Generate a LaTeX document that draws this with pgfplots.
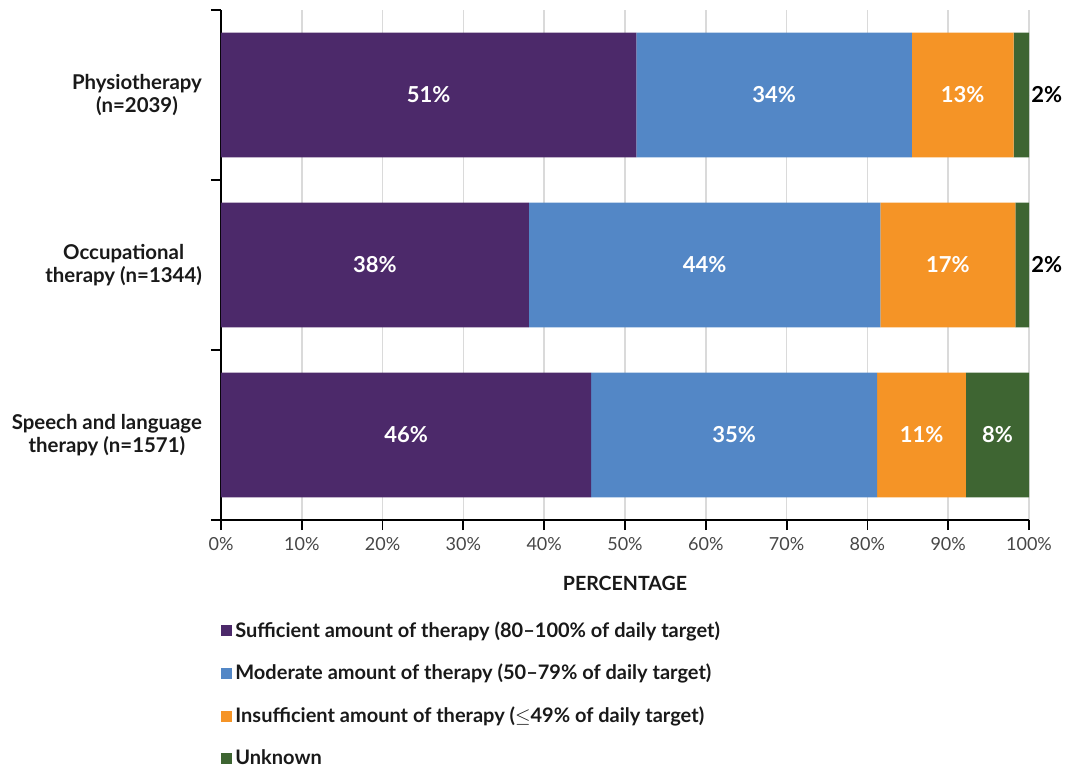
\documentclass[border=0pt]{standalone}
\usepackage{pgfplots}
\pgfplotsset{compat=1.18}
\usepackage{fontspec}
\setmainfont{Lato}

\definecolor{cPurple}{RGB}{76,41,106}
\definecolor{cBlue}{RGB}{83,135,198}
\definecolor{cOrange}{RGB}{245,148,38}
\definecolor{cGreen}{RGB}{62,101,50}
\definecolor{cGrid}{RGB}{218,218,218}
\definecolor{cTick}{RGB}{70,70,70}
\definecolor{cText}{RGB}{25,25,25}

\pgfplotsset{
  base/.style={scale only axis, width=404pt, height=255pt,
    xmin=0, xmax=100, ymin=-0.5, ymax=2.5, y dir=reverse},
  sqlegend/.style={legend image code/.code={\fill[##1] (0pt,-2.75pt) rectangle (5.5pt,2.75pt);}},
}

\begin{document}
\begin{tikzpicture}
\useasboundingbox (-110.5pt,-123.5pt) rectangle (425pt,260pt);
\begin{axis}[base,
  xbar stacked, bar width=0.735,
  axis x line*=bottom, axis y line*=left,
  axis line style={-, black, line width=0.9pt},
  tick align=outside,
  major tick length=0pt, minor tick length=5pt,
  xtick={0,10,...,100}, minor xtick={0,10,...,100},
  ytick={0,1,2}, minor ytick={-0.5,0.5,1.5,2.5},
  every minor tick/.append style={black, line width=0.9pt},
  xmajorgrids, major grid style={cGrid, line width=0.8pt},
  xticklabel={\pgfmathprintnumber{\tick}\%},
  /pgf/number format/assume math mode=true,
  xticklabel style={font=\fontsize{9}{11}\selectfont, text=cTick, yshift=-5pt},
  yticklabels={{Physiotherapy\\(n=2039)},{Occupational\\therapy (n=1344)},{Speech and language\\therapy (n=1571)}},
  yticklabel style={align=center, text=cText, font=\bfseries\fontsize{10.2}{11.5}\selectfont, xshift=-6pt},
  xlabel={PERCENTAGE},
  xlabel style={text=cText, font=\bfseries\fontsize{9.8}{11}\selectfont, yshift=-6pt},
  legend style={at={(0,-0.19)}, anchor=north west, draw=none, fill=none,
    inner sep=0pt, row sep=8pt, text=cText, font=\bfseries\fontsize{10}{11}\selectfont,
    nodes={inner xsep=1.5pt}},
  legend cell align=left,
]
% sufficient
\addplot[fill=cPurple, draw=none, sqlegend] coordinates {(51.4,0) (38.1,1) (45.8,2)};
\addlegendentry{Sufficient amount of therapy (80–100\% of daily target)}
% moderate
\addplot[fill=cBlue, draw=none, sqlegend] coordinates {(34.1,0) (43.5,1) (35.4,2)};
\addlegendentry{Moderate amount of therapy (50–79\% of daily target)}
% insufficient
\addplot[fill=cOrange, draw=none, sqlegend] coordinates {(12.6,0) (16.7,1) (11.0,2)};
\addlegendentry{Insufficient amount of therapy ($\leq$49\% of daily target)}
% unknown
\addplot[fill=cGreen, draw=none, sqlegend] coordinates {(1.9,0) (1.7,1) (7.8,2)};
\addlegendentry{Unknown}
\end{axis}

% value labels
\begin{axis}[base, hide axis, clip=false]
\addplot[only marks, mark=*, mark size=0pt, mark options={draw=none, fill=none},
  nodes near coords, point meta=explicit symbolic,
  every node near coord/.append style={anchor=center, text=white,
    font=\bfseries\fontsize{11}{13}\selectfont}]
  coordinates {
    (25.7,0) [51\%] (68.45,0) [34\%] (91.8,0) [13\%]
    (19.05,1) [38\%] (59.85,1) [44\%] (89.95,1) [17\%]
    (22.9,2) [46\%] (63.5,2) [35\%] (86.7,2) [11\%] (96.1,2) [8\%]
  };
\addplot[only marks, mark=*, mark size=0pt, mark options={draw=none, fill=none},
  nodes near coords, point meta=explicit symbolic,
  every node near coord/.append style={anchor=west, inner xsep=0.5pt, xshift=0.5pt, text=black,
    font=\bfseries\fontsize{11}{13}\selectfont}]
  coordinates {(100,0) [2\%] (100,1) [2\%]};
\end{axis}
\end{tikzpicture}
\end{document}
